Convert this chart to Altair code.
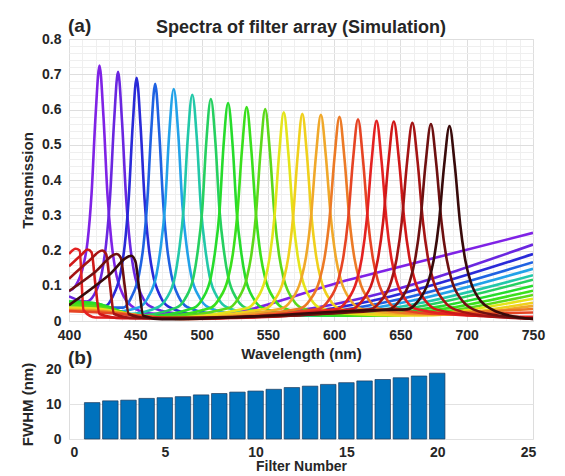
import altair as alt
import pandas as pd

FONT = "Liberation Sans"
TXT = "#262626"

# ---- filter spectra (wavelength nm, transmission) ----
f01_wl = [400, 405, 411, 414, 417, 420, 423, 426, 429, 432, 435, 441, 447, 460, 500, 612, 750]
f01_t = [0.085, 0.10, 0.16, 0.225, 0.36, 0.58, 0.725, 0.58, 0.36, 0.225, 0.145, 0.072, 0.043, 0.022, 0.015, 0.118, 0.25]
f02_wl = [400, 413, 419, 425, 428, 431, 434, 437, 440, 443, 446, 449, 455, 461, 480, 520, 750]
f02_t = [0.07, 0.055, 0.075, 0.141, 0.219, 0.354, 0.566, 0.707, 0.566, 0.354, 0.219, 0.141, 0.071, 0.042, 0.022, 0.015, 0.217]
f03_wl = [400, 427, 433, 439, 442, 445, 448, 451, 454, 457, 460, 463, 469, 475, 495, 535, 750]
f03_t = [0.05, 0.042, 0.069, 0.138, 0.214, 0.345, 0.552, 0.69, 0.552, 0.345, 0.214, 0.138, 0.069, 0.041, 0.02, 0.015, 0.19]
f04_wl = [400, 441, 447, 453, 456, 459, 462, 465, 468, 471, 474, 477, 483, 489, 510, 550, 750]
f04_t = [0.04, 0.038, 0.067, 0.135, 0.209, 0.337, 0.538, 0.673, 0.538, 0.337, 0.209, 0.135, 0.067, 0.04, 0.02, 0.015, 0.167]
f05_wl = [400, 430, 453, 459.5, 466, 469, 472.5, 475.5, 479, 482.5, 485.5, 489, 492, 498.5, 505, 525, 565, 750]
f05_t = [0.045, 0.025, 0.039, 0.066, 0.132, 0.204, 0.329, 0.526, 0.658, 0.526, 0.329, 0.204, 0.132, 0.066, 0.039, 0.02, 0.015, 0.148]
f06_wl = [400, 420, 445, 467, 473.5, 480, 483, 486.5, 489.5, 493, 496.5, 499.5, 503, 506, 512.5, 519, 540, 580, 750]
f06_t = [0.05, 0.045, 0.02, 0.039, 0.064, 0.128, 0.199, 0.321, 0.514, 0.642, 0.514, 0.321, 0.199, 0.128, 0.064, 0.039, 0.02, 0.015, 0.13]
f07_wl = [400, 420, 450, 481, 487.5, 494, 497, 500.5, 503.5, 507, 510.5, 513.5, 517, 520, 526.5, 533, 555, 595, 750]
f07_t = [0.055, 0.05, 0.015, 0.038, 0.063, 0.126, 0.195, 0.315, 0.504, 0.63, 0.504, 0.315, 0.195, 0.126, 0.063, 0.038, 0.02, 0.015, 0.117]
f08_wl = [400, 420, 455, 494, 500.5, 507, 510, 513.5, 516.5, 520, 523.5, 526.5, 530, 533, 539.5, 546, 570, 610, 750]
f08_t = [0.055, 0.05, 0.012, 0.037, 0.062, 0.124, 0.192, 0.309, 0.494, 0.618, 0.494, 0.309, 0.192, 0.124, 0.062, 0.037, 0.02, 0.015, 0.10]
f09_wl = [400, 420, 460, 506, 513, 520, 523.5, 527, 530.5, 534, 537.5, 541, 544.5, 548, 555, 562, 585, 625, 750]
f09_t = [0.05, 0.045, 0.01, 0.036, 0.061, 0.121, 0.188, 0.304, 0.486, 0.607, 0.486, 0.304, 0.188, 0.121, 0.061, 0.036, 0.02, 0.015, 0.086]
f10_wl = [400, 420, 465, 520, 527, 534, 537.5, 541, 544.5, 548, 551.5, 555, 558.5, 562, 569, 576, 600, 640, 750]
f10_t = [0.045, 0.04, 0.01, 0.036, 0.06, 0.12, 0.186, 0.30, 0.481, 0.601, 0.481, 0.30, 0.186, 0.12, 0.06, 0.036, 0.02, 0.015, 0.074]
f11_wl = [400, 420, 470, 534, 541, 548, 551.5, 555, 558.5, 562, 565.5, 569, 572.5, 576, 583, 590, 615, 650, 750]
f11_t = [0.038, 0.035, 0.008, 0.036, 0.059, 0.118, 0.184, 0.296, 0.474, 0.592, 0.474, 0.296, 0.184, 0.118, 0.059, 0.036, 0.02, 0.016, 0.063]
f12_wl = [400, 420, 475, 548, 555, 562, 565.5, 569, 572.5, 576, 579.5, 583, 586.5, 590, 597, 604, 630, 665, 750]
f12_t = [0.035, 0.032, 0.008, 0.035, 0.059, 0.118, 0.182, 0.294, 0.47, 0.588, 0.47, 0.294, 0.182, 0.118, 0.059, 0.035, 0.02, 0.016, 0.052]
f13_wl = [400, 420, 480, 560, 567.5, 575, 578.75, 582.5, 586.25, 590, 593.75, 597.5, 601.25, 605, 612.5, 620, 645, 680, 750]
f13_t = [0.032, 0.03, 0.007, 0.035, 0.058, 0.117, 0.181, 0.293, 0.468, 0.585, 0.468, 0.293, 0.181, 0.117, 0.058, 0.035, 0.022, 0.018, 0.043]
f14_wl = [400, 420, 485, 574, 581.5, 589, 592.75, 596.5, 600.25, 604, 607.75, 611.5, 615.25, 619, 626.5, 634, 660, 750]
f14_t = [0.03, 0.028, 0.006, 0.035, 0.058, 0.116, 0.179, 0.29, 0.463, 0.579, 0.463, 0.29, 0.179, 0.116, 0.058, 0.035, 0.022, 0.034]
f15_wl = [400, 420, 490, 588, 595.5, 603, 606.75, 610.5, 614.25, 618, 621.75, 625.5, 629.25, 633, 640.5, 648, 680, 750]
f15_t = [0.028, 0.025, 0.006, 0.034, 0.057, 0.114, 0.177, 0.286, 0.458, 0.572, 0.458, 0.286, 0.177, 0.114, 0.057, 0.034, 0.02, 0.024]
f16_wl = [400, 405, 408, 411, 420, 500, 602, 609.5, 617, 620.75, 624.5, 628.25, 632, 635.75, 639.5, 643.25, 647, 654.5, 662, 700, 750]
f16_t = [0.19, 0.205, 0.2, 0.03, 0.01, 0.008, 0.034, 0.057, 0.114, 0.176, 0.284, 0.454, 0.568, 0.454, 0.284, 0.176, 0.114, 0.057, 0.034, 0.016, 0.012]
f17_wl = [400, 410, 414, 417, 420, 423, 440, 510, 613, 621, 629, 633, 637, 641, 645, 649, 653, 657, 661, 669, 677, 710, 750]
f17_t = [0.155, 0.19, 0.203, 0.195, 0.1, 0.02, 0.008, 0.008, 0.033, 0.057, 0.113, 0.175, 0.283, 0.453, 0.566, 0.453, 0.283, 0.175, 0.113, 0.057, 0.033, 0.014, 0.009]
f18_wl = [400, 415, 425, 428, 431, 434, 450, 520, 627, 635, 643, 647, 651, 655, 659, 663, 667, 671, 675, 683, 691, 720, 750]
f18_t = [0.12, 0.17, 0.2, 0.19, 0.1, 0.02, 0.008, 0.01, 0.033, 0.056, 0.112, 0.174, 0.281, 0.45, 0.562, 0.45, 0.281, 0.174, 0.112, 0.056, 0.033, 0.012, 0.007]
f19_wl = [400, 420, 436, 439, 442, 445, 460, 530, 641, 649, 657, 661, 665, 669, 673, 677, 681, 685, 689, 697, 705, 730, 750]
f19_t = [0.085, 0.14, 0.19, 0.18, 0.1, 0.02, 0.008, 0.012, 0.033, 0.056, 0.112, 0.173, 0.28, 0.447, 0.559, 0.447, 0.28, 0.173, 0.112, 0.056, 0.033, 0.012, 0.006]
f20_wl = [400, 430, 447, 450, 453, 456, 470, 550, 620, 655, 663, 671, 675, 679, 683, 687, 691, 695, 699, 703, 711, 719, 740, 750]
f20_t = [0.045, 0.13, 0.185, 0.17, 0.09, 0.015, 0.005, 0.015, 0.03, 0.033, 0.055, 0.111, 0.171, 0.277, 0.442, 0.553, 0.442, 0.277, 0.171, 0.111, 0.055, 0.033, 0.01, 0.006]

filter_names = ["F%02d" % i for i in range(1, 21)]
filter_colors = ["#7f22e6", "#6a26e0", "#2a2ad8", "#1f62e2", "#22a2e8", "#22c8a8",
                 "#26d060", "#26dc2c", "#3ae01c", "#5cd81a", "#e4e41a", "#f0d01c",
                 "#f0a82a", "#ec7a26", "#e64424", "#e42222", "#d01818", "#a41414",
                 "#6e1010", "#380a0a"]

# ---- FWHM bar chart ----
filter_number = list(range(1, 21))
fwhm_nm = [10.4, 10.9, 11.1, 11.6, 11.8, 12.1, 12.6, 13.0, 13.4, 13.7,
           14.2, 14.7, 15.1, 15.6, 16.1, 16.6, 17.0, 17.5, 18.0, 18.8]

curves = [(f01_wl, f01_t), (f02_wl, f02_t), (f03_wl, f03_t), (f04_wl, f04_t),
          (f05_wl, f05_t), (f06_wl, f06_t), (f07_wl, f07_t), (f08_wl, f08_t),
          (f09_wl, f09_t), (f10_wl, f10_t), (f11_wl, f11_t), (f12_wl, f12_t),
          (f13_wl, f13_t), (f14_wl, f14_t), (f15_wl, f15_t), (f16_wl, f16_t),
          (f17_wl, f17_t), (f18_wl, f18_t), (f19_wl, f19_t), (f20_wl, f20_t)]
rows = []
for name, (wl, tr) in zip(filter_names, curves):
    for a, b in zip(wl, tr):
        rows.append({"filter": name, "wl": a, "T": b})
spec_df = pd.DataFrame(rows)
bar_df = pd.DataFrame({"n": filter_number, "fwhm": fwhm_nm})

axis_common = dict(labelFont=FONT, labelFontSize=14, labelFontWeight="bold", labelColor=TXT,
                   titleFont=FONT, titleFontSize=15, titleFontWeight="bold", titleColor=TXT,
                   ticks=False, tickSize=0, domain=False, labelOverlap=False, labelFlush=False)

lines = alt.Chart(spec_df).mark_line(strokeWidth=2.6, interpolate="monotone", clip=True).encode(
    x=alt.X("wl:Q", scale=alt.Scale(domain=[400, 750], nice=False),
            axis=alt.Axis(title="Wavelength (nm)", values=list(range(400, 751, 10)),
                          labelExpr="datum.value % 50 == 0 ? datum.label : ''",
                          gridColor={"condition": {"test": "datum.value % 50 == 0", "value": "#dedede"}, "value": "#efefef"},
                          labelPadding=7, titlePadding=4, **axis_common)),
    y=alt.Y("T:Q", scale=alt.Scale(domain=[0, 0.8], nice=False),
            axis=alt.Axis(title="Transmission", values=[round(0.02 * i, 2) for i in range(41)],
                          labelExpr="round(datum.value*100) % 10 == 0 ? (round(datum.value*100) == 0 ? '0' : format(datum.value, '.1f')) : ''",
                          gridColor={"condition": {"test": "round(datum.value*100) % 10 == 0", "value": "#dedede"}, "value": "#efefef"},
                          labelPadding=8, titlePadding=6, **axis_common)),
    color=alt.Color("filter:N", scale=alt.Scale(domain=filter_names, range=filter_colors), legend=None),
)

label_a = alt.Chart(pd.DataFrame({"t": ["(a)"]})).mark_text(
    align="left", baseline="middle", font=FONT, fontSize=19, fontWeight="bold", color=TXT
).encode(text="t:N", x=alt.value(-1), y=alt.value(-13))

title_a = alt.Chart(pd.DataFrame({"t": ["Spectra of filter array (Simulation)"]})).mark_text(
    align="center", baseline="middle", font=FONT, fontSize=18, fontWeight="bold", color=TXT
).encode(text="t:N", x=alt.value(232), y=alt.value(-11))

top = alt.layer(lines, label_a, title_a).properties(width=464, height=282)

bars = alt.Chart(bar_df).mark_bar(size=15.5, color="#0072BD", stroke="#1c3a5a", strokeWidth=0.7).encode(
    x=alt.X("n:Q", scale=alt.Scale(domain=[0, 25], nice=False),
            axis=alt.Axis(title="Filter Number", values=[0, 5, 10, 15, 20, 25], grid=False,
                          labelPadding=6, titlePadding=0,
                          **{**axis_common, "titleFontSize": 14})),
    y=alt.Y("fwhm:Q", scale=alt.Scale(domain=[0, 20], nice=False),
            axis=alt.Axis(title="FWHM (nm)", values=[0, 10, 20], gridColor="#e2e2e2",
                          labelPadding=8, titlePadding=10, **axis_common)),
)

label_b = alt.Chart(pd.DataFrame({"t": ["(b)"]})).mark_text(
    align="left", baseline="middle", font=FONT, fontSize=19, fontWeight="bold", color=TXT
).encode(text="t:N", x=alt.value(-1), y=alt.value(-11))

bottom = alt.layer(bars, label_b).properties(width=464, height=70)

chart = alt.vconcat(top, bottom, spacing=48, bounds="flush").properties(
    padding={"left": 11, "top": 8, "right": 5, "bottom": 0}
).configure_view(stroke="#4d4d4d", strokeWidth=1).configure(background="white")

chart.save("out.html", embed_options={"renderer": "svg", "actions": False})
